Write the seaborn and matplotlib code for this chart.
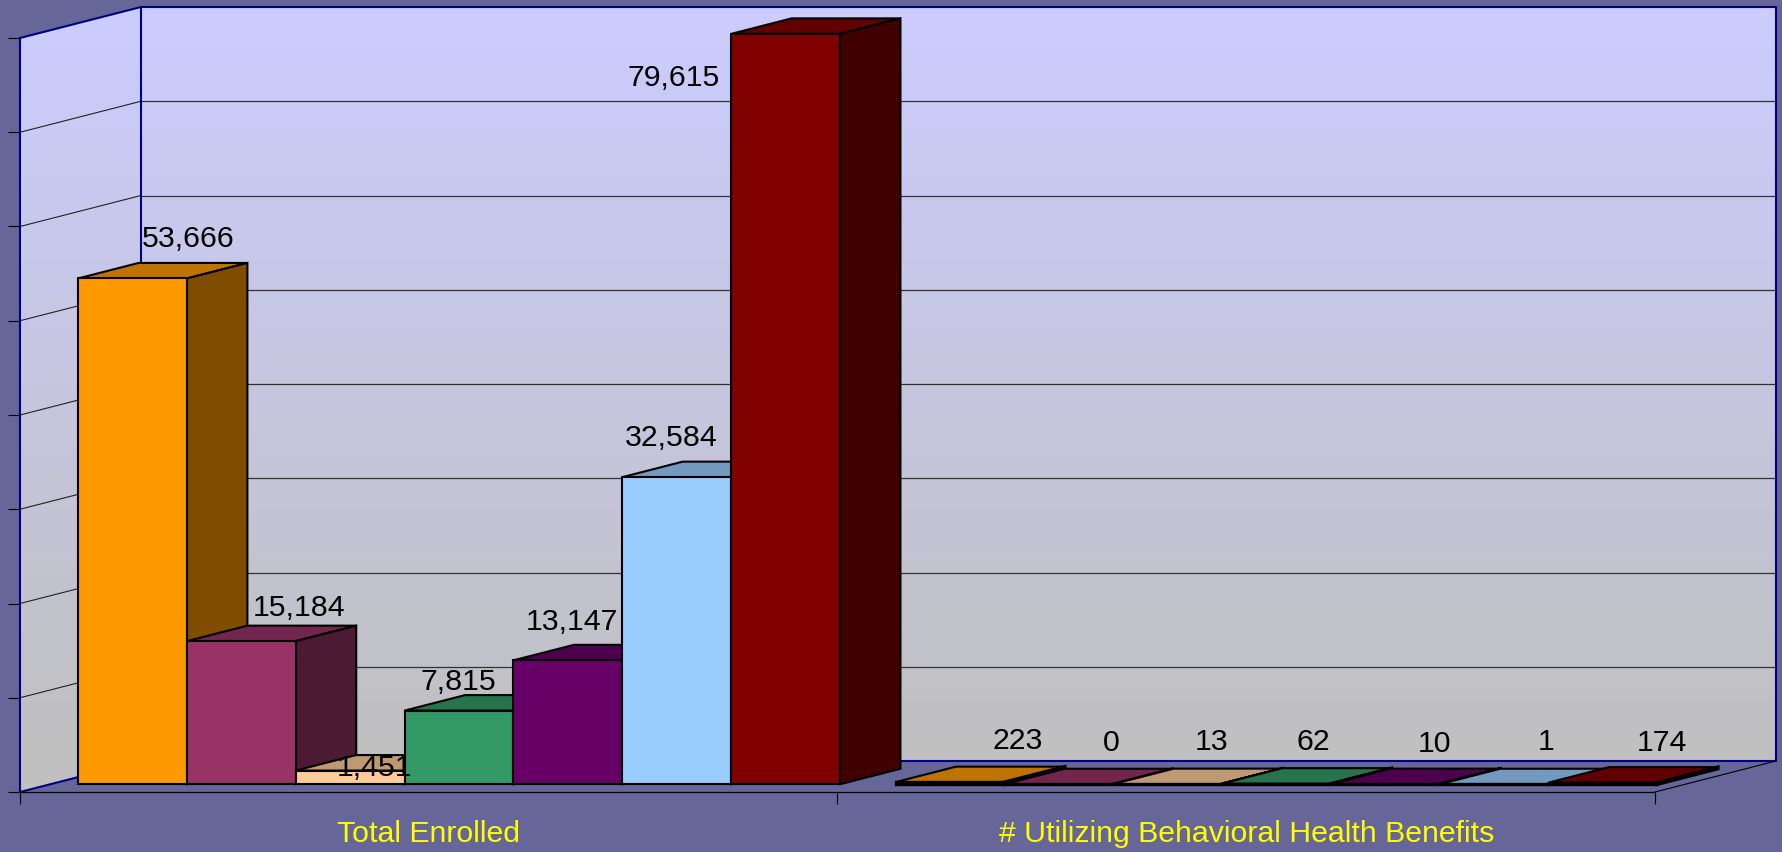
import numpy as np
import pandas as pd
import matplotlib
matplotlib.use("Agg")
import matplotlib.pyplot as plt
from matplotlib.colors import LinearSegmentedColormap, to_rgb
from matplotlib.patches import Polygon
import seaborn as sns

# ---- data ----
categories = ["Total Enrolled", "# Utilizing Behavioral Health Benefits"]
series = ["S1", "S2", "S3", "S4", "S5", "S6", "S7"]
total_enrolled = [53666, 15184, 1451, 7815, 13147, 32584, 79615]
utilizing = [223, 0, 13, 62, 10, 1, 174]
colors = ["#FF9900", "#993366", "#FFCC99", "#339966", "#660066", "#99CCFF", "#800000"]

# label placement relative to each bar's front-top centre (px right, px up)
label_off_total = [(56, 39), (58, 33), (24, 3), (-1, 29), (4, 38), (-6, 39), (-112, -44)]
label_off_util = [(68, 41), (52, 41), (44, 42), (37, 42), (49, 40), (52, 42), (59, 40)]

# ---- layout (pixels) ----
W, H = 1783, 852
LEFT, RIGHT, TOP, BOTTOM = 20, 1655, 38, 792   # front plane of the chart box
DEPTH_X, DEPTH_Y = 121, 31                     # box depth on screen
BG = "#666699"
NAVY = "#000080"

sns.set_theme(style="white")
plt.rcParams["font.family"] = ["Liberation Sans", "DejaVu Sans"]

df = pd.DataFrame({
    "category": [categories[0]] * 7 + [categories[1]] * 7,
    "series": series * 2,
    "value": total_enrolled + utilizing,
})

fig = plt.figure(figsize=(W / 100, H / 100), dpi=100, facecolor=BG)
ax = fig.add_axes([LEFT / W, 1 - BOTTOM / H, (RIGHT - LEFT) / W, (BOTTOM - TOP) / H])
ax.patch.set_alpha(0)

sns.barplot(data=df, x="category", y="value", hue="series", hue_order=series,
            order=categories, palette=colors, saturation=1, width=0.932, gap=0,
            edgecolor="black", linewidth=1.5, legend=False, ax=ax)
ax.set_xlim(-0.5, 1.5)
ax.set_ylim(0, 80000)
ax.set_xlabel("")
ax.set_ylabel("")

# data units per pixel
ux = 2 / (RIGHT - LEFT)
uy = 80000 / (BOTTOM - TOP)
ddx, ddy = DEPTH_X * ux, DEPTH_Y * uy
x0, x1 = -0.5, 1.5
ymax = 80000

# walls with vertical gradient
wall_poly = Polygon([(x0, 0), (x0, ymax), (x0 + ddx, ymax + ddy), (x1 + ddx, ymax + ddy),
                     (x1 + ddx, ddy), (x0 + ddx, ddy)],
                    closed=True, transform=ax.transData, facecolor="none", edgecolor="none")
ax.add_patch(wall_poly)
wall_poly.set_clip_on(False)
cmap = LinearSegmentedColormap.from_list("wall", ["#CCCCFF", "#C0C0C0"])
grad = np.linspace(0, 1, 256).reshape(-1, 1)
im = ax.imshow(grad, cmap=cmap, aspect="auto", origin="upper",
               extent=(x0, x1 + ddx, ddy, ymax + ddy), zorder=0)
im2 = ax.imshow(np.array([[1.0], [1.0]]), cmap=cmap, vmin=0, vmax=1, aspect="auto",
                extent=(x0, x1 + ddx, 0, ddy), zorder=0)
for image in (im, im2):
    image.set_clip_box(fig.bbox)
    image.set_clip_path(wall_poly)
ax.set_xlim(x0, x1)
ax.set_ylim(0, ymax)

# gridlines on the left and back walls
ticks = np.arange(0, ymax + 1, 10000)
for t in ticks[1:-1]:
    ax.plot([x0, x0 + ddx], [t, t + ddy], color="#222222", lw=0.8, zorder=1, clip_on=False)
    ax.plot([x0 + ddx, x1 + ddx], [t + ddy, t + ddy], color="#333333", lw=0.9, zorder=1, clip_on=False)

# wall frame
ax.plot([x0, x0 + ddx, x1 + ddx, x1 + ddx], [ymax, ymax + ddy, ymax + ddy, ddy], color=NAVY, lw=1.5,
        zorder=1.5, clip_on=False)
ax.plot([x0 + ddx, x0 + ddx], [ddy, ymax + ddy], color=NAVY, lw=1.5, zorder=1.5, clip_on=False)
ax.plot([x0, x0 + ddx, x1 + ddx], [0, ddy, ddy], color=NAVY, lw=1.5, zorder=1.5, clip_on=False)
ax.plot([x1, x1 + ddx], [0, ddy], color="black", lw=0.8, zorder=1.5, clip_on=False)


def shade(color, f):
    return tuple(c * f for c in to_rgb(color))


# bars: move the seaborn fronts into the box and add top/side faces
off_x, off_y = 0.25 * ddx, 0.25 * ddy
bx, by = 0.5 * ddx, 0.5 * ddy
for i, container in enumerate(ax.containers):
    for j, patch in enumerate(container.patches):
        x, w, h = patch.get_x(), patch.get_width(), patch.get_height()
        patch.set_x(x + off_x)
        patch.set_y(off_y)
        patch.set_zorder(3 + i + 0.5)
        patch.set_clip_on(False)
        edge_lw = 1.5 if j == 0 else 2.4
        patch.set_linewidth(edge_lw)
        xl, xr, yt, yb = x + off_x, x + off_x + w, off_y + h, off_y
        top = Polygon([(xl, yt), (xr, yt), (xr + bx, yt + by), (xl + bx, yt + by)], closed=True,
                      facecolor=shade(colors[i], 0.75), edgecolor="black", lw=1.5,
                      zorder=3 + i, clip_on=False)
        side = Polygon([(xr, yb), (xr, yt), (xr + bx, yt + by), (xr + bx, yb + by)], closed=True,
                       facecolor=shade(colors[i], 0.5), edgecolor="black", lw=edge_lw,
                       zorder=3 + i, clip_on=False)
        ax.add_patch(top)
        ax.add_patch(side)
        offs = (label_off_total if j == 0 else label_off_util)[i]
        ax.annotate(f"{int(round(h)):,}", xy=(x + off_x + w / 2, yt), xytext=offs,
                    textcoords="offset pixels", ha="center", va="center",
                    fontsize=21.8, color="black", zorder=20, annotation_clip=False)

# axes
for s in ("top", "right"):
    ax.spines[s].set_visible(False)
ax.spines["left"].set_color(NAVY)
ax.spines["left"].set_linewidth(1.5)
ax.spines["bottom"].set_color("black")
ax.spines["bottom"].set_linewidth(0.9)
ax.set_yticks(ticks)
ax.set_xticks([0, 1])
ax.set_xticklabels(categories)
ax.set_xticks([-0.5, 0.5, 1.5], minor=True)
ax.tick_params(axis="y", which="major", left=True, length=8.6, width=0.8, color="black", labelleft=False)
ax.tick_params(axis="x", which="major", bottom=False, length=0, pad=20.5, labelsize=21.8, labelcolor="#FFFF00")
ax.tick_params(axis="x", which="minor", bottom=True, length=8.6, width=0.8, color="black")

fig.savefig("out.png", dpi=100, facecolor=BG)
